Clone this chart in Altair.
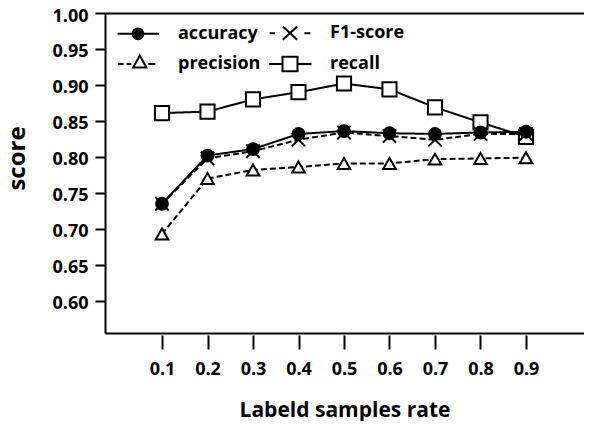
import altair as alt
import pandas as pd

rates = [0.1, 0.2, 0.3, 0.4, 0.5, 0.6, 0.7, 0.8, 0.9]
accuracy = [0.735, 0.802, 0.811, 0.832, 0.836, 0.833, 0.832, 0.834, 0.835]
f1_score = [0.735, 0.798, 0.808, 0.824, 0.834, 0.829, 0.824, 0.832, 0.832]
precision = [0.693, 0.770, 0.782, 0.786, 0.791, 0.791, 0.797, 0.798, 0.799]
recall = [0.861, 0.863, 0.880, 0.890, 0.902, 0.894, 0.869, 0.848, 0.828]

# legend is laid out column by column: accuracy / precision, then F1-score / recall
series_order = ["accuracy", "precision", "F1-score", "recall"]
y_ticks = [0.60, 0.65, 0.70, 0.75, 0.80, 0.85, 0.90, 0.95, 1.00]

rows = []
for name, vals in [("recall", recall), ("precision", precision),
                   ("F1-score", f1_score), ("accuracy", accuracy)]:
    for r, v in zip(rates, vals):
        rows.append({"rate": r, "score": v, "series": name})
df = pd.DataFrame(rows)

FONT = "Open Sans"
x_dom = [-0.0253, 1.0275]
y_dom = [0.5555, 1.0]

y_enc = alt.Y("score:Q",
              scale=alt.Scale(domain=y_dom, nice=False, zero=False),
              axis=alt.Axis(values=y_ticks, format=".2f", title="score",
                            tickSize=10, tickWidth=2, tickColor="black",
                            domainWidth=2, domainColor="black", grid=False,
                            labelFont=FONT, labelFontWeight="bold", labelFontSize=18,
                            labelColor="black", labelPadding=7, labelOffset=3,
                            titleFont=FONT, titleFontWeight="bold", titleFontSize=24,
                            titleColor="black", titlePadding=22, titleY=145))

x_scale = alt.Scale(domain=x_dom, nice=False, zero=False)

lines = alt.Chart(df).mark_line(strokeWidth=2, color="black").encode(
    x=alt.X("rate:Q", scale=x_scale,
            axis=alt.Axis(orient="bottom", values=rates, format=".1f",
                          domain=False, grid=False, offset=2,
                          tickSize=14, tickWidth=2, tickColor="black",
                          labelFont=FONT, labelFontWeight="bold", labelFontSize=18,
                          labelColor="black", labelPadding=11,
                          title="Labeld samples rate",
                          titleFont=FONT, titleFontWeight="bold", titleFontSize=21,
                          titleColor="black", titlePadding=21)),
    y=y_enc,
    strokeDash=alt.StrokeDash("series:N",
                              scale=alt.Scale(domain=series_order,
                                              range=[[1, 0], [6, 3], [6, 3], [1, 0]]),
                              legend=None),
    detail="series:N",
)

point_shapes = ["circle", "triangle-up", "M-1,-1L1,1M-1,1L1,-1", "square"]
point_sizes = [140, 200, 150, 170]
fills = ["black", "white", "white", "white"]
strokes = ["black", "black", "black", "black"]

points = alt.Chart(df).mark_point(filled=True, stroke="black", strokeWidth=2,
                                  opacity=1).encode(
    x=alt.X("rate:Q", scale=x_scale,
            axis=alt.Axis(orient="bottom", domain=True, domainWidth=2,
                          domainColor="black", ticks=False, labels=False,
                          grid=False, title=None)),
    y=y_enc,
    shape=alt.Shape("series:N", scale=alt.Scale(domain=series_order, range=point_shapes),
                    legend=None),
    fill=alt.Fill("series:N", scale=alt.Scale(domain=series_order, range=fills),
                  legend=None),
    size=alt.Size("series:N", scale=alt.Scale(domain=series_order, range=point_sizes),
                  legend=None),
)

legend_shapes = [
    "M-3.4,0H-0.9M0.9,0H3.5M-0.9,0A0.9,0.9,0,1,0,0.9,0A0.9,0.9,0,1,0,-0.9,0Z",
    "M-3.3,0H-2.4M-1.9,0H-1.1M-0.8,0.6L0.3,-1.4L1.4,0.6ZM1.7,0H2.9",
    "M-3.4,0H-2.5M-1.2,-1.1L1.2,1.1M-1.2,1.1L1.2,-1.1M2.4,0H3.4",
    "M-3.5,0H-1.25M1.25,0H3.6M-1.25,-1.2H1.25V1.2H-1.25Z",
]

leg = alt.Legend(orient="none", legendX=24, legendY=11, columns=2, title=None,
                 symbolSize=144, symbolStrokeWidth=2, symbolStrokeColor="black",
                 labelFont=FONT, labelFontWeight="bold", labelFontSize=18,
                 labelColor="black", labelOffset=31, columnPadding=4,
                 rowPadding=7, padding=0, labelLimit=300)

legend_layer = alt.Chart(df).transform_filter("false").mark_point(
    filled=True, strokeWidth=2, size=144, opacity=1).encode(
    x=alt.X("rate:Q", scale=x_scale,
            axis=alt.Axis(orient="top", domain=True, domainWidth=2,
                          domainColor="black", ticks=False, labels=False,
                          grid=False, title=None)),
    y=y_enc,
    shape=alt.Shape("series:N", scale=alt.Scale(domain=series_order, range=legend_shapes),
                    legend=leg),
    fill=alt.Fill("series:N", scale=alt.Scale(domain=series_order, range=fills),
                  legend=leg),
    stroke=alt.Stroke("series:N", scale=alt.Scale(domain=series_order, range=strokes),
                      legend=leg),
)

chart = alt.layer(lines, points, legend_layer).resolve_axis(
    x="independent"
).resolve_scale(
    shape="independent", fill="independent", stroke="independent"
).properties(
    width=479, height=320,
    autosize=alt.AutoSizeParams(type="none"),
    padding={"left": 97, "top": 5, "right": 0, "bottom": 88},
    background="white",
).configure_view(strokeWidth=0)

chart.save("out.html", embed_options={"renderer": "svg", "actions": False})
